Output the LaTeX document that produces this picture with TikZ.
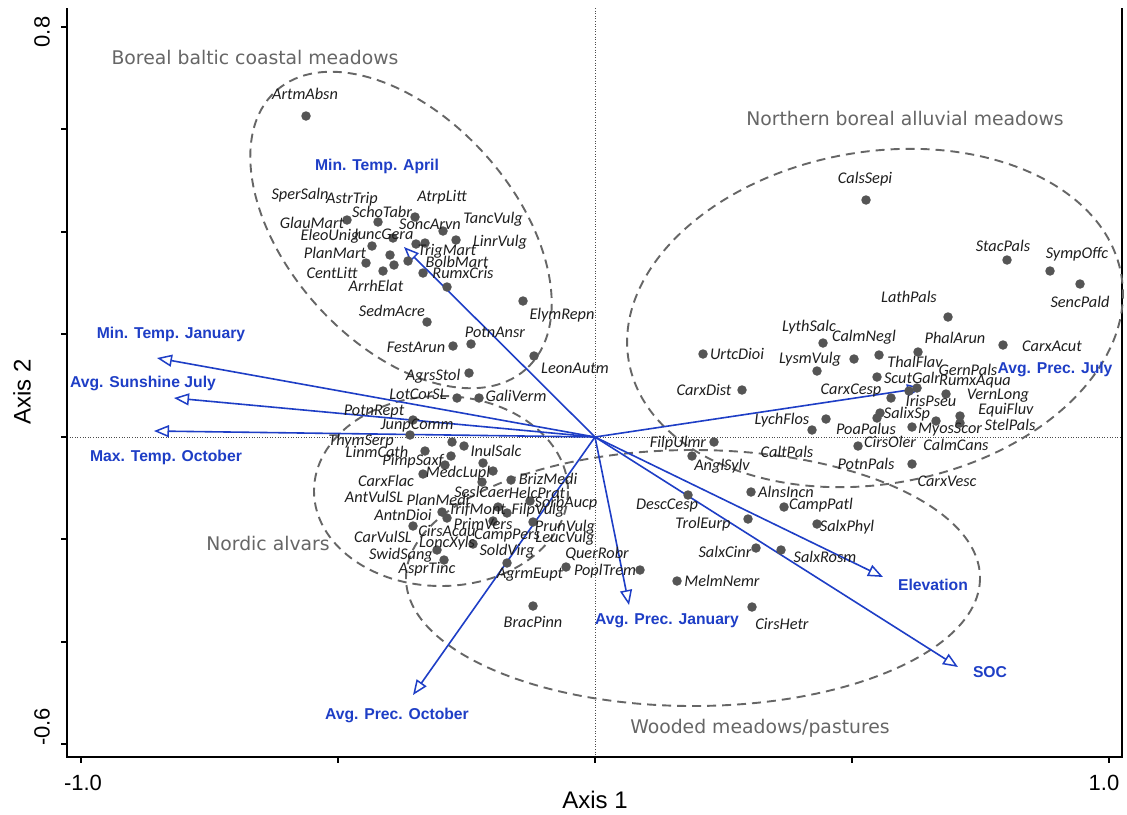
\documentclass[tikz,border=0pt]{standalone}
\usepackage{fontspec}
\setmainfont{Liberation Sans}
\newfontfamily\spfont{Carlito}
\newfontfamily\grpfont{DejaVu Sans}
\usetikzlibrary{arrows.meta}
\definecolor{envblue}{RGB}{30,62,198}
\definecolor{ptgray}{RGB}{85,85,85}
\definecolor{grpgray}{RGB}{102,102,102}
\definecolor{sptext}{RGB}{30,30,30}
\tikzset{
  sp/.style={font=\spfont\itshape\fontsize{16.3}{17}\selectfont, text=sptext, inner sep=0pt},
  ptdot/.style={circle, fill=ptgray, inner sep=0pt, minimum size=9.5pt},
  envlab/.style={font=\bfseries\fontsize{15.7}{17}\selectfont, text=envblue, inner sep=0pt},
  envarrow/.style={draw=envblue, line width=1.6pt, -{Triangle[length=15pt,width=12pt,fill=white,line width=1.5pt]}},
  grp/.style={font=\grpfont\fontsize{18.8}{20}\selectfont, text=grpgray, inner sep=0pt},
  ell/.style={draw=grpgray, line width=1.9pt, dash pattern=on 9pt off 6pt},
  zeroline/.style={draw=black!70, line width=0.6pt, dotted},
  axisline/.style={draw=black, line width=1.2pt},
  ticklab/.style={font=\fontsize{22}{24}\selectfont, inner sep=0pt},
  axlab/.style={font=\fontsize{24}{26}\selectfont, inner sep=0pt}
}
\begin{document}
\begin{tikzpicture}[x=1pt,y=-1pt]
\useasboundingbox[fill=white] (0,0) rectangle (1127,814);
% zero lines
\draw[zeroline] (595,8) -- (595,757);
\draw[zeroline] (67,437) -- (1122,437);
% axes
\draw[axisline] (67,8) -- (67,757) -- (1122,757) -- (1122,8);
\foreach \yy in {27,129,232,334,437,539,642,744} \draw[axisline] (61,\yy) -- (67,\yy);
\foreach \xx in {81,338,595,852,1109} \draw[axisline] (\xx,757) -- (\xx,763);
\node[ticklab, rotate=90] (t08) at (42,32) {0.8};
\node[ticklab, rotate=90] (t06) at (42,727) {-0.6};
\node[ticklab] (tm1) at (83,783) {-1.0};
\node[ticklab] (tp1) at (1104,783) {1.0};
\node[axlab] (ax1) at (595,800) {Axis 1};
\node[axlab, rotate=90] (ax2) at (22,392) {Axis 2};
% ellipses
\draw[ell, rotate around={-48:(401,230)}] (401,230) ellipse [x radius=187, y radius=113];
\draw[ell, rotate around={10:(875,318)}] (875,318) ellipse [x radius=250, y radius=166];
\draw[ell] (693,578) ellipse [x radius=287, y radius=128];
\draw[ell] (441,491) ellipse [x radius=127, y radius=95];
% environmental arrows
\coordinate (O) at (595,437);
\coordinate (tApr) at (404,247);
\coordinate (tJan) at (157,358);
\coordinate (tSun) at (174,398);
\coordinate (tOct) at (154,431);
\coordinate (tPJul) at (922,388);
\coordinate (tElev) at (883,577);
\coordinate (tSOC) at (958,667);
\coordinate (tPJan) at (629,605);
\coordinate (tPOct) at (413,695);
\foreach \t in {tApr,tJan,tSun,tOct,tPJul,tElev,tSOC,tPJan,tPOct} \draw[envarrow] (O) -- (\t);
% points
\foreach \x/\y [count=\i] in {306/116,347/220,378/222,415/217,443/231,456/240,372/246,393/238,416/244,425/243,366/263,390/255,394/265,408/261,383/271,423/273,447/287,523/301,427/322,453/346,471/344,534/356,469/373,457/398,479/398,
413/420,410/435,452/442,464/446,425/451,451/456,445/465,483/463,493/471,423/474,482/482,511/480,530/501,442/512,447/518,498/507,507/513,493/521,533/522,413/526,473/544,437/550,444/560,507/563,566/567,640/570,677/581,533/606,
866/200,1007/260,1050/271,1080/284,948/317,823/343,1003/345,854/359,879/355,918/352,817/371,703/354,877/377,742/390,909/391,917/388,891/398,946/394,826/419,812/430,877/418,880/413,936/421,960/416,960/423,912/427,858/446,912/464,714/442,692/456,
688/495,751/492,784/507,748/519,817/524,756/548,781/550,752/607}
  \node[ptdot] (p\i) at (\x,\y) {};
% species labels
\foreach \n/\x/\y in {ArtmAbsn/305/94,SperSaln/300/195,AstrTrip/352/199,AtrpLitt/442/197,SchoTabr/382/212,GlauMart/312/223,SoncArvn/430/224,TancVulg/493/219,EleoUnig/330/236,JuncGera/383/234,LinrVulg/500/242,PlanMart/335/253,TrigMart/447/251,BolbMart/457/262,CentLitt/332/273,RumxCris/463/273,ArrhElat/376/286,ElymRepn/562/315,SedmAcre/392/311,PotnAnsr/495/332,FestArun/416/347,LeonAutm/575/368,AgrsStol/433/376,LotCorSL/418/394,GaliVerm/516/396,
PotnRept/374/412,JunpComm/417/426,ThymSerp/361/441,LinmCath/377/452,InulSalc/496/451,PimpSaxf/413/461,MedcLupl/458/473,BrizMedi/548/479,CarxFlac/386/481,SeslCaer/482/492,HelcPrat/537/493,AntVulSL/374/497,PlanMedi/438/500,SorbAucp/566/503,TrifMont/477/510,FilpVulg/538/510,AntnDioi/403/515,PrimVers/483/524,PrunVulg/565/527,CirsAcau/447/531,CarVulSL/383/537,CampPers/507/536,LeucVulg/565/538,LoncXyls/447/543,SoldVirg/507/551,QuerRobr/597/554,SwidSang/401/555,AsprTinc/427/569,PoplTrem/605/571,AgrmEupt/530/575,BracPinn/533/622,
CalsSepi/865/179,StacPals/1003/246,SympOffc/1077/254,SencPald/1080/302,LathPals/909/297,LythSalc/809/327,CalmNegl/864/337,PhalArun/955/338,CarxAcut/1052/346,UrtcDioi/737/354,LysmVulg/810/359,ThalFlav/915/362,GernPals/968/370,ScutGalr/912/378,RumxAqua/975/382,CarxDist/704/390,CarxCesp/851/391,VernLong/998/396,IrisPseu/931/401,EquiFluv/1006/410,SalixSp/907/414,LychFlos/782/420,StelPals/1010/425,PoaPalus/866/429,MyosScor/950/430,CirsOler/890/442,CalmCans/956/445,CaltPals/787/452,PotnPals/866/464,CarxVesc/947/481,FilpUlmr/678/443,AnglSylv/722/466,
DescCesp/667/506,AlnsIncn/786/492,CampPatl/821/505,TrolEurp/703/524,SalxPhyl/847/527,SalxCinr/725/552,SalxRosm/825/557,MelmNemr/722/581,CirsHetr/782/624}
  \node[sp] (l\n) at (\x,\y) {\n};
% environmental labels
\node[envlab] (eApr) at (377,166) {Min. Temp. April};
\node[envlab] (eJan) at (171,334) {Min. Temp. January};
\node[envlab] (eSun) at (143,383) {Avg. Sunshine July};
\node[envlab] (eOct) at (166,457) {Max. Temp. October};
\node[envlab] (ePJul) at (1055,369) {Avg. Prec. July};
\node[envlab] (eElev) at (933,585) {Elevation};
\node[envlab] (eSOC) at (990,672) {SOC};
\node[envlab] (ePJan) at (667,621) {Avg. Prec. January};
\node[envlab] (ePOct) at (397,715) {Avg. Prec. October};
% group labels
\node[grp] (g1) at (255,57) {Boreal baltic coastal meadows};
\node[grp] (g2) at (905,118) {Northern boreal alluvial meadows};
\node[grp] (g3) at (268,543) {Nordic alvars};
\node[grp] (g4) at (760,728) {Wooded meadows/pastures};
\end{tikzpicture}
\end{document}
